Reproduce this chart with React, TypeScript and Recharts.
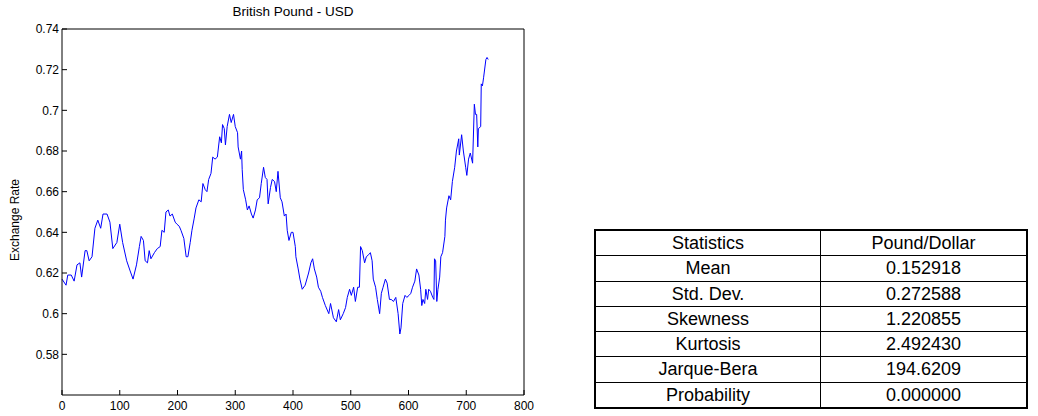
import React from "react";
import { LineChart, Line, XAxis, YAxis } from "recharts";

// trading day index and GBP/USD rate
const days = [
  0, 7, 10, 16, 21, 26, 31, 34, 40, 43, 47, 52, 57, 62, 67, 71, 78, 83, 88, 95,
  100, 105, 112, 118, 123, 129, 134, 137, 141, 144, 148, 151, 154, 160, 165, 170,
  173, 177, 180, 184, 187, 191, 196, 199, 203, 206, 211, 215, 218, 222, 225, 229,
  232, 237, 241, 244, 248, 251, 254, 258, 261, 265, 269, 273, 276, 278, 281, 283,
  286, 290, 293, 297, 300, 304, 305, 309, 311, 312, 314, 318, 321, 324, 328, 331,
  335, 338, 342, 345, 349, 352, 355, 357, 361, 364, 368, 371, 374, 378, 381, 385,
  388, 390, 393, 397, 400, 404, 405, 409, 412, 416, 421, 427, 431, 434, 437, 441,
  444, 448, 451, 456, 462, 465, 470, 475, 479, 482, 487, 491, 494, 498, 501, 505,
  508, 512, 515, 517, 520, 524, 527, 531, 534, 537, 539, 543, 546, 550, 553, 556,
  560, 563, 567, 570, 574, 578, 582, 585, 587, 590, 594, 597, 601, 604, 607, 611,
  614, 618, 621, 623, 625, 628, 630, 633, 635, 638, 642, 644, 645, 647, 649, 651,
  654, 656, 659, 663, 664, 666, 670, 673, 676, 680, 683, 687, 688, 692, 695, 699,
  701, 704, 707, 711, 714, 716, 718, 720, 721, 725, 726, 728, 730, 734, 736, 738,
];

const rates = [
  0.617, 0.614, 0.619, 0.619, 0.616, 0.624, 0.625, 0.618, 0.631, 0.631, 0.626, 0.628,
  0.642, 0.646, 0.642, 0.649, 0.649, 0.645, 0.632, 0.635, 0.644, 0.635, 0.626, 0.621,
  0.617, 0.624, 0.633, 0.638, 0.636, 0.626, 0.625, 0.631, 0.627, 0.63, 0.632, 0.633,
  0.641, 0.64, 0.65, 0.651, 0.648, 0.649, 0.645, 0.644, 0.643, 0.641, 0.637, 0.628,
  0.628, 0.635, 0.641, 0.647, 0.652, 0.656, 0.655, 0.664, 0.661, 0.66, 0.666, 0.669,
  0.677, 0.676, 0.677, 0.687, 0.684, 0.693, 0.691, 0.683, 0.692, 0.698, 0.694, 0.698,
  0.692, 0.689, 0.682, 0.676, 0.68, 0.671, 0.661, 0.656, 0.651, 0.653, 0.649, 0.647,
  0.651, 0.656, 0.657, 0.664, 0.672, 0.667, 0.666, 0.654, 0.662, 0.666, 0.665, 0.66,
  0.67, 0.657, 0.655, 0.648, 0.649, 0.641, 0.636, 0.64, 0.64, 0.633, 0.628, 0.622,
  0.617, 0.612, 0.614, 0.62, 0.625, 0.627, 0.622, 0.618, 0.613, 0.611, 0.608, 0.604,
  0.6, 0.605, 0.598, 0.596, 0.602, 0.597, 0.6, 0.603, 0.608, 0.612, 0.609, 0.613,
  0.606, 0.613, 0.613, 0.633, 0.631, 0.625, 0.628, 0.629, 0.63, 0.626, 0.617, 0.613,
  0.607, 0.6, 0.61, 0.613, 0.617, 0.615, 0.607, 0.607, 0.606, 0.608, 0.6, 0.59,
  0.593, 0.605, 0.609, 0.608, 0.609, 0.61, 0.613, 0.616, 0.622, 0.619, 0.612, 0.604,
  0.607, 0.605, 0.612, 0.607, 0.612, 0.611, 0.608, 0.607, 0.627, 0.626, 0.606, 0.612,
  0.618, 0.628, 0.63, 0.638, 0.646, 0.652, 0.658, 0.656, 0.665, 0.672, 0.68, 0.686,
  0.678, 0.688, 0.68, 0.672, 0.668, 0.676, 0.679, 0.674, 0.703, 0.698, 0.698, 0.682,
  0.691, 0.692, 0.713, 0.712, 0.716, 0.725, 0.726, 0.725,
];

const xTicks = [0, 100, 200, 300, 400, 500, 600, 700, 800];
const yTicks = [0.58, 0.6, 0.62, 0.64, 0.66, 0.68, 0.7, 0.72, 0.74];

const statNames = ["Mean", "Std. Dev.", "Skewness", "Kurtosis", "Jarque-Bera", "Probability"];
const statValues = ["0.152918", "0.272588", "1.220855", "2.492430", "194.6209", "0.000000"];

const data = days.map((d, i) => ({ day: d, rate: rates[i] }));

const sans = "'Liberation Sans', Arial, sans-serif";
const axisFont = { fontSize: 12, fill: "#000", fontFamily: sans };

const cellStyle: React.CSSProperties = {
  border: "1px solid #000",
  textAlign: "center",
  padding: 0,
  lineHeight: "20px",
};

export default function App() {
  return (
    <div style={{ position: "absolute", left: 0, top: 0, width: 1038, height: 416, background: "#fff" }}>
      <div
        style={{
          position: "absolute",
          left: 62,
          width: 462,
          top: 4,
          textAlign: "center",
          fontFamily: sans,
          fontSize: 13.5,
        }}
      >
        British Pound - USD
      </div>
      <div style={{ position: "absolute", left: 0, top: 0 }}>
        <LineChart width={540} height={416} data={data} margin={{ top: 28, right: 15, bottom: 0, left: 12 }}>
          <XAxis
            xAxisId="b"
            dataKey="day"
            type="number"
            domain={[0, 800]}
            ticks={xTicks}
            interval={0}
            height={21}
            tickSize={-5}
            tickMargin={11}
            stroke="#000"
            tick={axisFont}
          />
          {/* mirrored axes close the box with inward ticks */}
          <XAxis
            xAxisId="t"
            orientation="top"
            type="number"
            domain={[0, 800]}
            ticks={xTicks}
            interval={0}
            height={1}
            tickSize={-5}
            tick={false}
            stroke="#000"
          />
          <YAxis
            yAxisId="l"
            type="number"
            domain={[0.56, 0.74]}
            ticks={yTicks}
            interval={0}
            width={50}
            tickSize={-5}
            tickMargin={8}
            stroke="#000"
            tick={axisFont}
            tickFormatter={(v: number) => String(+v.toFixed(2))}
            label={{ value: "Exchange Rate", angle: -90, position: "center", dx: -22, dy: 8, style: axisFont }}
          />
          <YAxis
            yAxisId="r"
            orientation="right"
            type="number"
            domain={[0.56, 0.74]}
            ticks={yTicks}
            interval={0}
            width={1}
            tickSize={-5}
            tick={false}
            stroke="#000"
          />
          <Line
            xAxisId="b"
            yAxisId="l"
            type="linear"
            dataKey="rate"
            stroke="#0000ff"
            strokeWidth={1}
            dot={false}
            isAnimationActive={false}
          />
        </LineChart>
      </div>
      <table
        style={{
          position: "absolute",
          left: 594,
          top: 229,
          width: 434,
          height: 180,
          borderCollapse: "collapse",
          border: "2px solid #000",
          fontFamily: sans,
          fontSize: 18,
          color: "#000",
        }}
      >
        <tbody>
          <tr>
            <td style={{ ...cellStyle, width: 224 }}>Statistics</td>
            <td style={cellStyle}>Pound/Dollar</td>
          </tr>
          {statNames.map((name, i) => (
            <tr key={name}>
              <td style={cellStyle}>{name}</td>
              <td style={cellStyle}>{statValues[i]}</td>
            </tr>
          ))}
        </tbody>
      </table>
    </div>
  );
}
